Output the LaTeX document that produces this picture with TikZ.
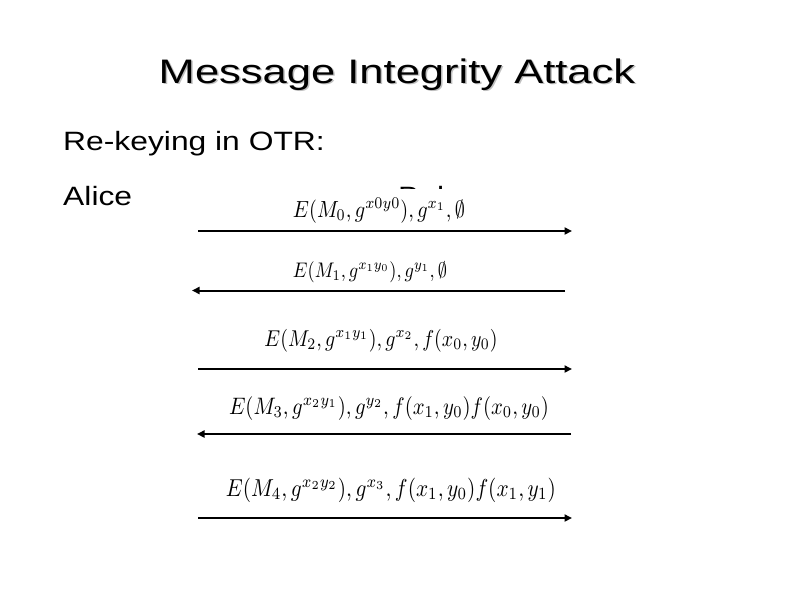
\documentclass[tikz,border=0pt]{standalone}
\usepackage{fontspec}
\setmainfont{Liberation Sans}
\usepackage{graphicx}
\usetikzlibrary{arrows.meta}
\newcommand{\eqbox}[2]{\scalebox{1}[1.15]{\resizebox{#1}{!}{$#2$}}}
\begin{document}
\begin{tikzpicture}[x=1pt,y=-1pt,
  titletext/.style={anchor=base,font=\fontsize{34}{40}\selectfont,xscale=1.28,transform shape,inner sep=0pt},
  bodytext/.style={anchor=base west,font=\fontsize{26.5}{30}\selectfont,xscale=1.2,transform shape,inner sep=0pt},
  eqlabel/.style={anchor=base,inner xsep=3pt,inner ysep=0pt},
  msg/.style={line width=2pt,-{Triangle[length=7.5pt,width=7pt]}}]
\useasboundingbox[fill=white] (0,0) rectangle (794,595);
% title with shadow
\node[titletext,text=black!25] (titleshadow) at (398.5,84.5) {Message Integrity Attack};
\node[titletext] (title) at (397,83) {Message Integrity Attack};
\node[bodytext] (rekey) at (63,150) {Re-keying in OTR:};
\node[bodytext] (alice) at (63,205) {Alice};
\node[bodytext] (bob) at (398,205) {Bob};
% message labels
\node[eqlabel,fill=white] (m0) at (379,217) {\rule{0pt}{28pt}\eqbox{172pt}{E(M_0,g^{x0y0}),g^{x_1},\emptyset}};
\node[eqlabel] (m1) at (370,277) {\eqbox{154pt}{E(M_1,g^{x_1y_0}),g^{y_1},\emptyset}};
\node[eqlabel] (m2) at (381,346) {\eqbox{233pt}{E(M_2,g^{x_1y_1}),g^{x_2},f(x_0,y_0)}};
\node[eqlabel] (m3) at (389,414) {\eqbox{320pt}{E(M_3,g^{x_2y_1}),g^{y_2},f(x_1,y_0)f(x_0,y_0)}};
\node[eqlabel] (m4) at (391,496) {\eqbox{330pt}{E(M_4,g^{x_2y_2}),g^{x_3},f(x_1,y_0)f(x_1,y_1)}};
% arrow end points
\coordinate (a1s) at (198,231); \coordinate (a1e) at (572,231);
\coordinate (a2s) at (565,290.5); \coordinate (a2e) at (192,290.5);
\coordinate (a3s) at (198,369); \coordinate (a3e) at (572,369);
\coordinate (a4s) at (571,434); \coordinate (a4e) at (197,434);
\coordinate (a5s) at (198,518); \coordinate (a5e) at (572,518);
\draw[msg] (a1s) -- (a1e);
\draw[msg] (a2s) -- (a2e);
\draw[msg] (a3s) -- (a3e);
\draw[msg] (a4s) -- (a4e);
\draw[msg] (a5s) -- (a5e);
\end{tikzpicture}
\end{document}
